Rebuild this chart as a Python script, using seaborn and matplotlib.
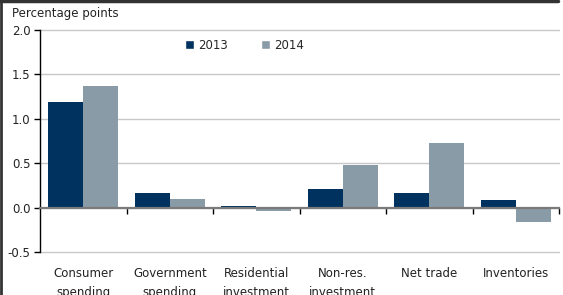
import pandas as pd
import seaborn as sns
import matplotlib.pyplot as plt
from matplotlib.lines import Line2D
from matplotlib.patches import Patch

categories = ['Consumer\nspending', 'Government\nspending', 'Residential\ninvestment',
              'Non-res.\ninvestment', 'Net trade', 'Inventories']
values_2013 = [1.19, 0.16, 0.02, 0.21, 0.17, 0.08]
values_2014 = [1.37, 0.095, -0.035, 0.48, 0.73, -0.16]
years = ['2013', '2014']
colors = ['#00325f', '#8a9ba8']

df = pd.DataFrame({
    'Category': categories * 2,
    'Year': [years[0]] * len(categories) + [years[1]] * len(categories),
    'Value': values_2013 + values_2014,
})

sns.set_style('white')
plt.rcParams['font.family'] = ['DejaVu Sans']

fig = plt.figure(figsize=(5.63, 2.95), dpi=100)
ax = fig.add_axes([40 / 563, 1 - 252 / 295, 519 / 563, 222 / 295])

sns.barplot(data=df, x='Category', y='Value', hue='Year', palette=colors,
            width=0.81, saturation=1, ax=ax, legend=False, zorder=3, linewidth=0)

ax.set_xlim(-0.5, 5.5)
ax.set_ylim(-0.5, 2.0)
ax.set_yticks([-0.5, 0.0, 0.5, 1.0, 1.5, 2.0])
ax.set_yticklabels(['-0.5', '0.0', '0.5', '1.0', '1.5', '2.0'], fontsize=8.5, color='#222222')
ax.yaxis.grid(True, color='#c8c8c8', lw=1)
for gl in ax.get_ygridlines():
    gl.set_clip_on(False)
ax.xaxis.grid(False)
ax.tick_params(axis='y', direction='out', length=4, width=1, color='black', pad=3, left=True)

for s in ['top', 'right']:
    ax.spines[s].set_visible(False)
ax.spines['left'].set_color('black')
ax.spines['left'].set_linewidth(1)
ax.spines['bottom'].set_position(('data', 0))
ax.spines['bottom'].set_color('#7a7a7a')
ax.spines['bottom'].set_linewidth(1.6)
ax.spines['bottom'].set_zorder(4)

ax.set_xticks(range(len(categories)))
ax.set_xticklabels(categories, fontsize=8.5, linespacing=1.6, color='#222222')
ax.set_xticks([i + 0.5 for i in range(len(categories))], minor=True)
ax.tick_params(axis='x', which='major', length=0, pad=43)
ax.tick_params(axis='x', which='minor', direction='out', length=4, width=1, color='black', bottom=True)
ax.set_xlabel('')
ax.set_ylabel('')

handles = [Patch(facecolor=c, label=y) for c, y in zip(colors, years)]
ax.legend(handles=handles, loc='center left', bbox_to_anchor=(0.268, 0.932), ncol=2,
          frameon=False, fontsize=8.5, handlelength=0.75, handleheight=0.75,
          handletextpad=0.35, columnspacing=2.8, borderpad=0)

fig.text(12 / 563, 1 - 13 / 295, 'Percentage points', fontsize=8.5, va='center', ha='left', color='#222222')

fig.add_artist(Line2D([0, 558 / 563], [1 - 1 / 295, 1 - 1 / 295], color='#333333', lw=2.5, transform=fig.transFigure))
fig.add_artist(Line2D([1 / 563, 1 / 563], [0, 1], color='#333333', lw=2, transform=fig.transFigure))

fig.savefig('out.png', dpi=100)
